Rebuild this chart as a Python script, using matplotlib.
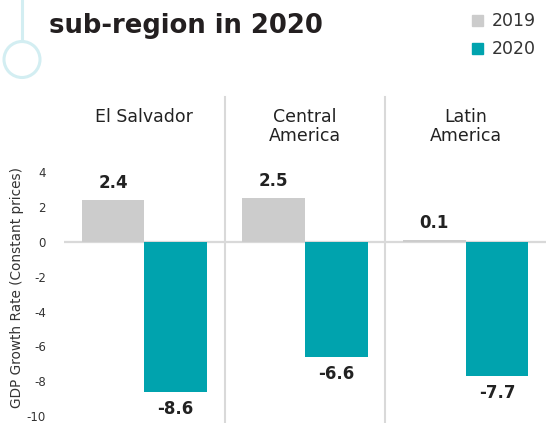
import matplotlib
matplotlib.use("Agg")
import matplotlib.pyplot as plt
from matplotlib.patches import Circle, Rectangle
from matplotlib.lines import Line2D
import numpy as np

regions = ["El Salvador", "Central\nAmerica", "Latin\nAmerica"]
years = ["2019", "2020"]
growth_2019 = [2.4, 2.5, 0.1]
growth_2020 = [-8.6, -6.6, -7.7]
y_ticks = [4, 2, 0, -2, -4, -6, -8, -10]

c2019 = "#cccccc"
c2020 = "#00a3ae"
grid_c = "#d9d9d9"
text_c = "#222222"

W, H = 546, 423
fig = plt.figure(figsize=(W / 100, H / 100), dpi=100)


def fx(px):
    return px / W


def fy(py):
    return 1 - py / H


ax_top, ax_bot = 160, 423
ax = fig.add_axes([fx(64), fy(ax_bot), fx(546 - 64), (ax_bot - ax_top) / H])

x = np.arange(len(regions))
bw = 0.39
ax.bar(x - bw / 2, growth_2019, width=bw, color=c2019, zorder=2)
ax.bar(x + bw / 2, growth_2020, width=bw, color=c2020, zorder=2)
ax.axhline(0, color=grid_c, lw=1.6, zorder=1)

ax.set_xlim(-0.5, 2.5)
ax.set_ylim(-10.4, 4.7)
ax.set_yticks(y_ticks)
ax.set_yticklabels([str(t) for t in y_ticks], fontsize=8.5, color="#333333")
ax.set_xticks([])
ax.tick_params(axis="y", length=0, pad=13)
for s in ax.spines.values():
    s.set_visible(False)
fig.text(fx(17), fy(288), "GDP Growth Rate (Constant prices)", rotation=90,
         ha="center", va="center", fontsize=9.8, color="#333333")

# value labels
for i in range(len(regions)):
    v = growth_2019[i]
    ax.annotate(f"{v}", (x[i] - bw / 2, v), xytext=(0, 17),
                textcoords="offset pixels", ha="center", va="center",
                fontsize=12, fontweight="black", color=text_c)
    v = growth_2020[i]
    ax.annotate(f"{v}", (x[i] + bw / 2, v), xytext=(0, -17),
                textcoords="offset pixels", ha="center", va="center",
                fontsize=12, fontweight="black", color=text_c)

# panel separators
sep_top = (ax_bot - 97) / (ax_bot - ax_top)
for xs in [0.5, 1.5]:
    ax.axvline(xs, ymin=0, ymax=sep_top, color=grid_c, lw=1.5, clip_on=False)

# panel titles
for i, r in enumerate(regions):
    xc = ax.transData.transform((x[i], 0))[0]
    fig.text(fx(xc), fy(108), r, ha="center", va="top", fontsize=12.5,
             color=text_c, linespacing=1.05)

# title
fig.text(fx(49), fy(33), "sub-region in 2020", ha="left", va="baseline",
         fontsize=18.6, fontweight="black", color="#231f20")

# decoration
fig.add_artist(Line2D([fx(22), fx(22)], [fy(0), fy(41)], color="#d3eef2",
                      lw=2.2, transform=fig.transFigure))
fig.add_artist(Circle((22, H - 59.5), 18, transform=None, fill=False,
                      ec="#d3eef2", lw=2.2))

# legend
for yc, lab, col in [(20.5, years[0], c2019), (49, years[1], c2020)]:
    fig.add_artist(Rectangle((fx(472), fy(yc + 5.5)), fx(11), 11 / H,
                             color=col, transform=fig.transFigure))
    fig.text(fx(492), fy(yc), lab, ha="left", va="center", fontsize=12.5,
             color="#333333")

fig.savefig("out.png", dpi=100)
